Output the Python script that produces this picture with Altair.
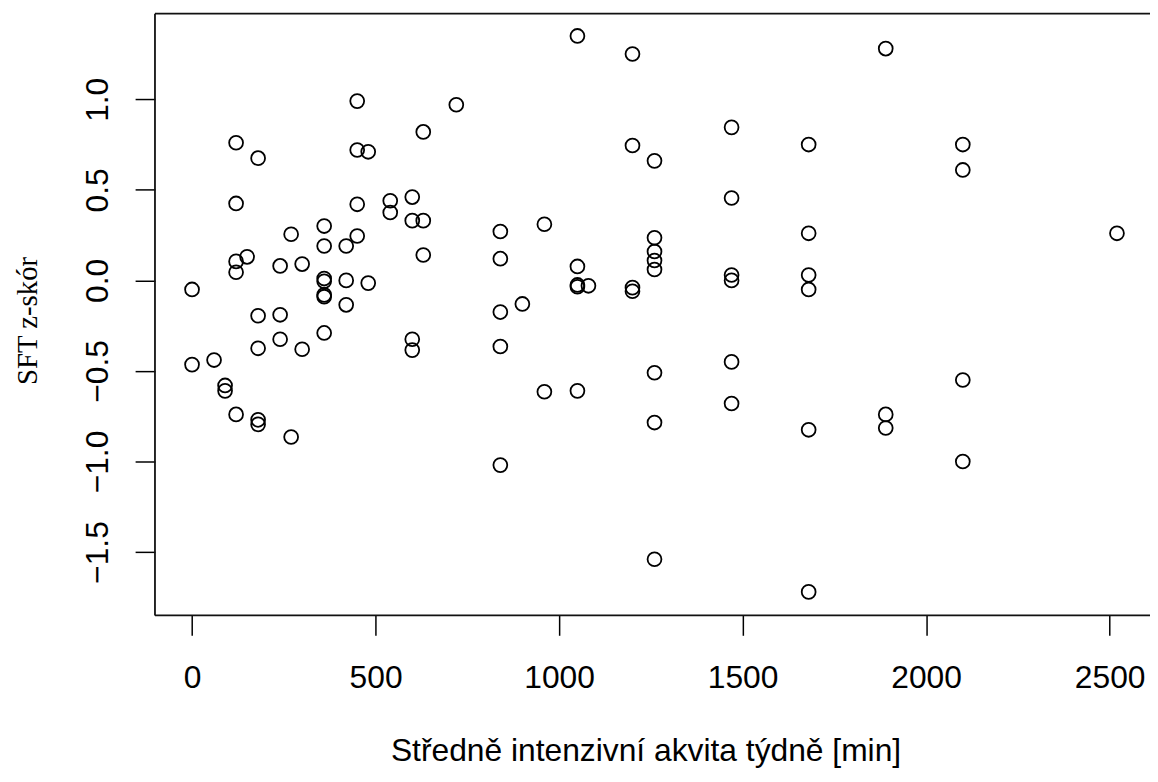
import altair as alt
import pandas as pd

# weekly moderate-intensity activity [min] and SFT z-score
minutes = [
    0, 0,
    60,
    90, 90,
    120, 120, 120, 120, 120,
    150,
    180, 180, 180, 180, 180,
    240, 240, 240,
    270, 270,
    300, 300,
    360, 360, 360, 360, 360, 360, 360,
    420, 420, 420,
    450, 450, 450, 450,
    480, 480,
    540, 540,
    600, 600, 600, 600,
    630, 630, 630,
    720,
    840, 840, 840, 840, 840,
    900,
    960, 960,
    1050, 1050, 1050, 1050, 1050,
    1080,
    1200, 1200, 1200, 1200,
    1260, 1260, 1260, 1260, 1260, 1260, 1260, 1260,
    1470, 1470, 1470, 1470, 1470, 1470,
    1680, 1680, 1680, 1680, 1680, 1680,
    1890, 1890, 1890,
    2100, 2100, 2100, 2100,
    2520,
]
zscore = [
    -0.05, -0.465,
    -0.44,
    -0.58, -0.61,
    0.76, 0.425, 0.105, 0.045, -0.74,
    0.13,
    0.675, -0.195, -0.375, -0.77, -0.795,
    0.08, -0.19, -0.325,
    0.255, -0.865,
    0.09, -0.38,
    0.30, 0.19, 0.01, -0.005, -0.08, -0.09, -0.29,
    0.19, 0.0, -0.135,
    0.99, 0.72, 0.42, 0.245,
    0.71, -0.015,
    0.44, 0.375,
    0.46, 0.33, -0.325, -0.385,
    0.82, 0.33, 0.14,
    0.97,
    0.27, 0.12, -0.175, -0.365, -1.02,
    -0.13,
    0.31, -0.615,
    1.35, 0.077, -0.025, -0.035, -0.61,
    -0.03,
    1.25, 0.745, -0.04, -0.06,
    0.66, 0.235, 0.16, 0.11, 0.06, -0.51, -0.785, -1.54,
    0.845, 0.455, 0.03, 0.0, -0.45, -0.68,
    0.75, 0.26, 0.03, -0.05, -0.825, -1.72,
    1.28, -0.74, -0.815,
    0.75, 0.61, -0.55, -1.0,
    0.26,
]
x_ticks = [0, 500, 1000, 1500, 2000, 2500]
y_ticks = [-1.5, -1.0, -0.5, 0.0, 0.5, 1.0]

x_title = "Středně intenzivní akvita týdně [min]"
y_title = "SFT z-skór"

W, H = 1002, 606
df = pd.DataFrame({"x": minutes, "y": zscore})

points = alt.Chart(df).mark_point(
    shape="circle", filled=False, size=195, strokeWidth=1.8, color="black", opacity=1
).encode(
    x=alt.X(
        "x:Q",
        scale=alt.Scale(domain=[-101, 2610], nice=False, zero=False),
        axis=alt.Axis(
            values=x_ticks, format="d", title=x_title,
            domain=False, grid=False,
            tickSize=20, tickWidth=1.5, tickColor="black",
            labelFont="Liberation Sans", labelFontSize=32, labelColor="black",
            labelPadding=53, labelBaseline="alphabetic", labelFlush=False,
            titleFont="Liberation Sans", titleFontSize=32, titleFontWeight="normal",
            titleColor="black", titleX=494, titleY=146,
            titleBaseline="alphabetic", titleAlign="center",
        ),
    ),
    y=alt.Y(
        "y:Q",
        scale=alt.Scale(domain=[-1.85, 1.473], nice=False, zero=False),
        axis=alt.Axis(
            values=y_ticks, format=".1f", title=y_title,
            domain=False, grid=False,
            tickSize=20, tickWidth=1.5, tickColor="black",
            labelFont="Liberation Sans", labelFontSize=32, labelColor="black",
            labelAngle=270, labelAlign="center", labelBaseline="alphabetic",
            labelPadding=28, labelFlush=False,
            titleFont="Liberation Serif", titleFontSize=29, titleFontWeight="normal",
            titleColor="black", titleAngle=270, titleX=-119, titleY=309,
            titleBaseline="alphabetic", titleAlign="center",
        ),
    ),
)

frame = pd.DataFrame({"a": [0]})
top_line = alt.Chart(frame).mark_rule(color="#111", strokeWidth=1.8).encode(
    x=alt.value(0), x2=alt.value(W), y=alt.value(0)
)
left_line = alt.Chart(frame).mark_rule(color="#111", strokeWidth=1.8).encode(
    x=alt.value(0), y=alt.value(0), y2=alt.value(H)
)
bottom_line = alt.Chart(frame).mark_rule(color="#111", strokeWidth=1.8).encode(
    x=alt.value(0), x2=alt.value(W), y=alt.value(H)
)

chart = alt.layer(points, top_line, left_line, bottom_line).properties(
    width=W,
    height=H,
    autosize=alt.AutoSizeParams(type="none"),
    padding={"left": 148, "top": 3, "right": 0, "bottom": 156},
    background="white",
).configure_view(stroke=None)

chart.save("out.html", embed_options={"renderer": "svg", "actions": False})
